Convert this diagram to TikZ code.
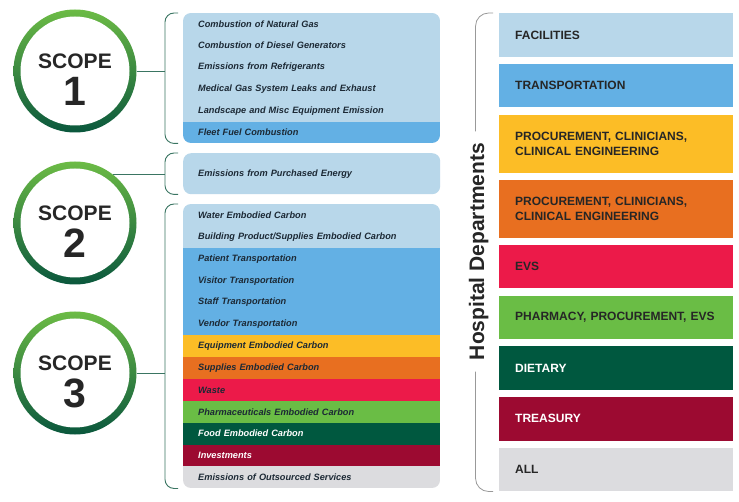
\documentclass[tikz,border=0pt]{standalone}
\usepackage{fontspec}
\setmainfont{Liberation Sans}
\usepackage{xcolor}
\usepackage{tikz}
\usetikzlibrary{positioning}

\definecolor{lblue}{HTML}{B8D7EA}
\definecolor{mblue}{HTML}{63B0E4}
\definecolor{gold}{HTML}{FCBD26}
\definecolor{orng}{HTML}{E86F20}
\definecolor{crim}{HTML}{EC1A49}
\definecolor{lgrn}{HTML}{6ABD45}
\definecolor{dgrn}{HTML}{00583F}
\definecolor{marn}{HTML}{9C0A31}
\definecolor{lgray}{HTML}{DCDCDF}
\definecolor{ink}{HTML}{1C2935}
\definecolor{ringlt}{HTML}{6CBB45}
\definecolor{ringdk}{HTML}{0A573D}
\definecolor{brkc}{HTML}{3A7562}

\begin{document}
\begin{tikzpicture}[x=1pt,y=-1pt,
  ring/.style={circle,minimum size=123pt,inner sep=0pt,top color=ringlt,middle color=ringlt!75!ringdk,bottom color=ringdk,
    path picture={\fill[white] (path picture bounding box.center) circle (54.5pt);}},
  ringtxt/.style={font=\fontsize{21}{21}\selectfont\bfseries,text=black!85,inner sep=0pt},
  ringnum/.style={font=\fontsize{41}{41}\selectfont\bfseries,text=black!85,inner sep=0pt},
  row/.style={anchor=north west,inner xsep=15pt,inner ysep=0pt,text width=227pt,align=left,
    font=\fontsize{9.2}{11}\selectfont\bfseries\itshape,text=ink},
  dept/.style={anchor=north west,inner sep=0pt,text width=202pt,minimum width=234pt,align=left,
    minimum height=43.5pt,font=\fontsize{12}{15}\selectfont\bfseries,text=black!85},
  brk/.style={draw=brkc,line width=0.9pt,rounded corners=9pt},
  dbrk/.style={draw=gray!80,line width=0.8pt,rounded corners=13pt}]
 \fill[white] (0,0) rectangle (739,502);
 \useasboundingbox (0,0) rectangle (739,502);

 % the three scope rings
 \foreach \i/\y in {1/71,2/223,3/373}{
   \node[ring] (s\i) at (75,\y) {};
   \node[ringtxt] (w\i) at ([yshift=10pt]s\i.center) {SCOPE};
   \node[ringnum] (n\i) at ([yshift=-20pt]s\i.center) {\i};
 }

 % scope 1 sources
 \begin{scope}
 \clip[rounded corners=8pt] (183,13) rectangle (440,143);
 \foreach \t/\c [count=\k from 0] in {Combustion of Natural Gas/lblue,Combustion of Diesel Generators/lblue,
   Emissions from Refrigerants/lblue,Medical Gas System Leaks and Exhaust/lblue,
   Landscape and Misc Equipment Emission/lblue,Fleet Fuel Combustion/mblue}
   \node[row,fill=\c,minimum height=21.67pt] (a\k) at (183,13+\k*21.67) {\t};
 \end{scope}

 % scope 2 source
 \node[row,fill=lblue,minimum height=41pt,rounded corners=8pt] (b0) at (183,153) {Emissions from Purchased Energy};

 % scope 3 sources
 \begin{scope}
 \clip[rounded corners=8pt] (183,204) rectangle (440,488);
 \foreach \t/\c/\f [count=\k from 0] in {Water Embodied Carbon/lblue/ink,
   {Building Product/Supplies Embodied Carbon}/lblue/ink,
   Patient Transportation/mblue/ink,Visitor Transportation/mblue/ink,
   Staff Transportation/mblue/ink,Vendor Transportation/mblue/ink,
   Equipment Embodied Carbon/gold/ink,Supplies Embodied Carbon/orng/ink,
   Waste/crim/ink,Pharmaceuticals Embodied Carbon/lgrn/ink,
   Food Embodied Carbon/dgrn/white,Investments/marn/white,
   Emissions of Outsourced Services/lgray/ink}
   \node[row,fill=\c,text=\f,minimum height=21.85pt] (c\k) at (183,204+\k*21.85) {\t};
 \end{scope}

 % brackets and links
 \draw[brk] ([xshift=-5pt]a0.north west) -| ([xshift=-18pt]a5.south west) -- ([xshift=-5pt]a5.south west);
 \draw[brk] ([xshift=-5pt]b0.north west) -| ([xshift=-18pt]b0.south west) -- ([xshift=-5pt]b0.south west);
 \draw[brk] ([xshift=-5pt]c0.north west) -| ([xshift=-18pt]c12.south west) -- ([xshift=-5pt]c12.south west);
 \draw[brk] (s1.east) -- ([xshift=-18pt]s1.east -| a0.west);
 \draw[brk] (s2.52) -- ([xshift=-18pt]s2.52 -| b0.west);
 \draw[brk] (s3.east) -- ([xshift=-18pt]s3.east -| c0.west);

 % departments
 \node[dept,fill=lblue] (d1) at (499,13) {FACILITIES};
 \node[dept,fill=mblue,below=6.8pt of d1] (d2) {TRANSPORTATION};
 \node[dept,fill=gold,minimum height=58pt,below=6.8pt of d2] (d3) {PROCUREMENT, CLINICIANS,\\CLINICAL ENGINEERING};
 \node[dept,fill=orng,minimum height=58pt,below=6.8pt of d3] (d4) {PROCUREMENT, CLINICIANS,\\CLINICAL ENGINEERING};
 \node[dept,fill=crim,below=6.8pt of d4] (d5) {EVS};
 \node[dept,fill=lgrn,below=6.8pt of d5] (d6) {PHARMACY, PROCUREMENT, EVS};
 \node[dept,fill=dgrn,text=white,below=6.8pt of d6] (d7) {DIETARY};
 \node[dept,fill=marn,text=white,below=6.8pt of d7] (d8) {TREASURY};
 \node[dept,fill=lgray,below=6.8pt of d8] (d9) {ALL};

 \node[rotate=90,anchor=base,font=\fontsize{21}{21}\selectfont\bfseries,text=black!85] (hd) at (484,251.5) {Hospital Departments};
 \draw[dbrk] ([xshift=-6pt]d1.north west) -| ([shift={(-3pt,8pt)}]hd.east);
 \draw[dbrk] ([xshift=-6pt]d9.south west) -| ([shift={(-3pt,-8pt)}]hd.west);
\end{tikzpicture}
\end{document}
